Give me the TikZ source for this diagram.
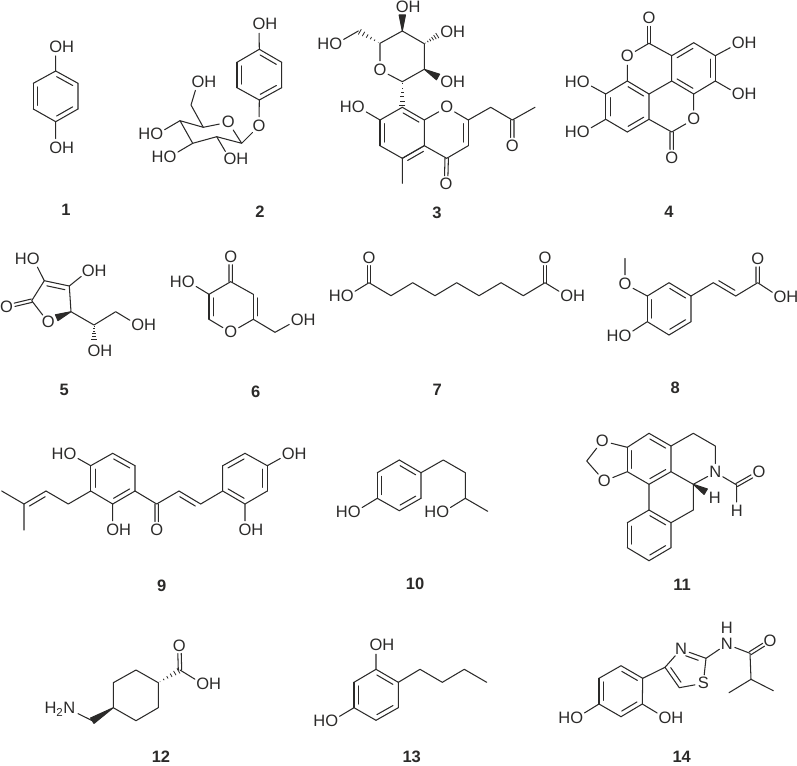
\documentclass[tikz,border=0pt]{standalone}
\usepackage{fontspec}
\setmainfont{Liberation Sans}
\usetikzlibrary{calc}
\definecolor{ink}{HTML}{2B2A29}
\newcommand{\OH}{O\rlap{H}}
\newcommand{\HO}{\llap{H}O}
\newcommand{\hashbond}[2]{%
  \foreach \t in {0.08,0.25,...,0.95}{%
    \pgfmathsetmacro{\w}{\t*3.2}
    \draw[line width=0.8pt,line cap=butt] ($(#1)!\t!(#2)!\w pt!90:(#2)$) -- ($(#1)!\t!(#2)!\w pt!-90:(#2)$);
  }}
\tikzset{
  atom/.style={circle, inner sep=0pt, font=\fontsize{16.5}{18}\selectfont},
  lab/.style={inner sep=0pt, font=\fontsize{16.5}{18}\selectfont\bfseries},
  dl/.style={to path={(\tikztostart) -- (\tikztotarget)
    ($(\tikztostart)!#1!(\tikztotarget)!4.5pt!90:(\tikztotarget)$) -- ($(\tikztotarget)!#1!(\tikztostart)!4.5pt!-90:(\tikztostart)$)}},
  dl/.default=.14,
  dr/.style={to path={(\tikztostart) -- (\tikztotarget)
    ($(\tikztostart)!#1!(\tikztotarget)!4.5pt!-90:(\tikztotarget)$) -- ($(\tikztotarget)!#1!(\tikztostart)!4.5pt!90:(\tikztostart)$)}},
  dr/.default=.14,
  dc/.style={to path={($(\tikztostart)!1.7pt!90:(\tikztotarget)$) -- ($(\tikztostart)!.68!(\tikztotarget)!1.7pt!90:(\tikztotarget)$)
    ($(\tikztostart)!1.7pt!-90:(\tikztotarget)$) -- ($(\tikztostart)!.68!(\tikztotarget)!1.7pt!-90:(\tikztotarget)$)}},
  wedge/.style={fill, to path={(\tikztostart) -- ($(\tikztotarget)!3.2pt!90:(\tikztostart)$) -- ($(\tikztotarget)!3.2pt!-90:(\tikztostart)$) -- cycle}},
}
\begin{document}
\begin{tikzpicture}[x=1pt, y=-1pt, color=ink, line width=1.05pt, line cap=round, line join=round]
\useasboundingbox (0,0) rectangle (797,765);
% 1
\coordinate (a1) at (55.7,71); \coordinate (a2) at (78,83.3); \coordinate (a3) at (78,109);
\coordinate (a4) at (55.7,121.7); \coordinate (a5) at (33.3,109); \coordinate (a6) at (33.3,83.3);
\node[atom] (a7) at (55.7,46.7) {\OH};
\node[atom] (a8) at (55.7,147.7) {\OH};
\draw (a1) edge[dr] (a2);
\draw (a3) edge[dr] (a4);
\draw (a5) edge[dr] (a6);
\draw (a2) -- (a3) (a4) -- (a5) (a6) -- (a1) -- (a7) (a4) -- (a8);
\node[lab] (l1) at (66,209.5) {1};
% 2
\coordinate (b1) at (259.3,49.3); \coordinate (b2) at (281.7,62.3); \coordinate (b3) at (281.7,87.7);
\coordinate (b4) at (259.3,100); \coordinate (b5) at (237,87.7); \coordinate (b6) at (237,62.3);
\node[atom] (b7) at (259,24) {\OH};
\node[atom] (b8) at (259,126) {O};
\node[atom] (b9) at (228.3,122.3) {O};
\coordinate (b10) at (241.7,143.3); \coordinate (b11) at (216.7,136.7); \coordinate (b12) at (192.7,143.3);
\coordinate (b13) at (180,120.7); \coordinate (b14) at (203.3,127.3); \coordinate (b15) at (191,105);
\node[atom] (b16) at (198,81.7) {\OH};
\node[atom] (b17) at (156.7,134.3) {\HO};
\node[atom] (b18) at (170,156.7) {\HO};
\node[atom] (b19) at (230,159.3) {\OH};
\draw (b1) edge[dr] (b2);
\draw (b3) edge[dr] (b4);
\draw (b5) edge[dr] (b6);
\draw (b2) -- (b3) (b4) -- (b5) (b6) -- (b1) -- (b7);
\draw (b4) -- (b8) -- (b10) -- (b9) -- (b14) -- (b13) -- (b12) -- (b11) -- (b10);
\draw (b14) -- (b15) -- (b16) (b13) -- (b17) (b12) -- (b18) (b11) -- (b19);
\node[lab] (l2) at (260,212) {2};
% 3
\coordinate (c1) at (402.3,31); \coordinate (c2) at (424.3,43.7); \coordinate (c3) at (424.3,69.3);
\coordinate (c4) at (402.3,81.7); \node[atom] (c5) at (380,70) {O}; \coordinate (c6) at (380,43.3);
\node[atom] (c7) at (402.3,6.5) {\OH}; \coordinate (c8) at (402.3,15);
\node[atom] (c9) at (446.7,31.7) {\OH}; \coordinate (c10) at (438.3,35);
\node[atom] (c11) at (446.7,82.3) {\OH}; \coordinate (c12) at (438,77);
\coordinate (c13) at (358.3,31); \node[atom] (c14) at (335.7,44) {\HO};
\coordinate (c15) at (402.3,107.3); \coordinate (c16) at (424.3,120); \node[atom] (c17) at (446.7,107.3) {O};
\coordinate (c18) at (468.3,120); \coordinate (c19) at (468.3,145.7); \coordinate (c20) at (446.7,158.3);
\coordinate (c21) at (424.3,145.7); \coordinate (c22) at (402.3,158.3); \coordinate (c23) at (380,145.7);
\coordinate (c24) at (380,120); \node[atom] (c25) at (446,184) {O}; \coordinate (c26) at (402.3,183.3);
\node[atom] (c27) at (358.3,107.3) {\HO}; \coordinate (c28) at (490.7,107.3); \coordinate (c29) at (512.3,120);
\node[atom] (c30) at (512.3,145.7) {O}; \coordinate (c31) at (535,107.3);
\draw (c20) edge[dc] (c25);
\draw (c29) edge[dc] (c30);
\draw (c15) edge[dr] (c16);
\draw (c18) edge[dr] (c19);
\draw (c22) edge[dr] (c21);
\draw (c23) edge[dr] (c24);
\draw (c1) edge[wedge] (c8);
\draw (c3) edge[wedge] (c12);
\hashbond{c2}{c10}
\hashbond{c6}{c13}
\hashbond{c4}{c15}
\draw (c6) -- (c1) -- (c2) -- (c3) -- (c4) -- (c5) -- (c6) (c13) -- (c14);
\draw (c16) -- (c17) -- (c18) (c19) -- (c20) -- (c21) -- (c16) (c21) -- (c22) -- (c23) (c24) -- (c15);
\draw (c22) -- (c26) (c24) -- (c27) (c18) -- (c28) -- (c29) -- (c31);
\node[lab] (l3) at (437,213) {3};
% 4
\node[atom] (d1) at (649,18.3) {O}; \coordinate (d2) at (649,43.3); \node[atom] (d3) at (627.3,56) {O};
\coordinate (d4) at (627.3,81); \coordinate (d5) at (649,94); \coordinate (d6) at (671.7,81);
\coordinate (d7) at (671.7,55.7); \coordinate (d8) at (693.7,42.7); \coordinate (d9) at (715.3,55.7);
\coordinate (d10) at (715.3,81); \coordinate (d11) at (693.7,94); \node[atom] (d12) at (693.7,119.3) {O};
\coordinate (d13) at (671.7,132); \node[atom] (d14) at (671.7,157.7) {O}; \coordinate (d15) at (649,119.3);
\coordinate (d16) at (627.3,132); \coordinate (d17) at (605.7,119.3); \coordinate (d18) at (605.7,94);
\node[atom] (d19) at (583.3,81.7) {\HO}; \node[atom] (d20) at (583.3,132.3) {\HO};
\node[atom] (d21) at (738.3,43.3) {\OH}; \node[atom] (d22) at (738.3,94.3) {\OH};
\draw (d2) edge[dc] (d1);
\draw (d13) edge[dc] (d14);
\draw (d4) edge[dr] (d5);
\draw (d15) edge[dr] (d16);
\draw (d17) edge[dr] (d18);
\draw (d6) edge[dl] (d11);
\draw (d10) edge[dl] (d9);
\draw (d8) edge[dl] (d7);
\draw (d2) -- (d3) -- (d4) -- (d18) (d5) -- (d15) -- (d13) -- (d12) -- (d11) -- (d10);
\draw (d16) -- (d17) (d5) -- (d6) -- (d7) -- (d2) (d8) -- (d9);
\draw (d18) -- (d19) (d17) -- (d20) (d9) -- (d21) (d10) -- (d22);
\node[lab] (l4) at (669,212) {4};
% 5
\node[atom] (e1) at (33.3,259) {\HO}; \node[atom] (e2) at (88.3,270.7) {\OH};
\coordinate (e3) at (44.3,280.7); \coordinate (e4) at (69.3,286); \coordinate (e5) at (71,311.7);
\node[atom] (e6) at (48.3,322.3) {O}; \coordinate (e7) at (31.7,300.7); \node[atom] (e8) at (6.5,306.7) {O};
\coordinate (e9) at (56.7,317.7); \coordinate (e10) at (94,325); \coordinate (e11) at (115.7,311.7);
\node[atom] (e12) at (137.7,325) {\OH}; \node[atom] (e13) at (94,350.7) {\OH}; \coordinate (e14) at (94,340);
\draw (e7) edge[dc] (e8);
\draw (e3) edge[dr] (e4);
\draw (e5) edge[wedge] (e9);
\hashbond{e10}{e14}
\draw (e1) -- (e3) -- (e7) -- (e6) (e4) -- (e2) (e4) -- (e5) -- (e10) -- (e11) -- (e12);
\node[lab] (l5) at (64.3,390) {5};
% 6
\node[atom] (f1) at (230.7,256.7) {O}; \coordinate (f2) at (230.7,281.7); \coordinate (f3) at (209,294.3);
\coordinate (f4) at (209,319.3); \node[atom] (f5) at (230.7,332.3) {O}; \coordinate (f6) at (253.3,319.3);
\coordinate (f7) at (253.3,294.3); \node[atom] (f8) at (188.3,281.7) {\HO}; \coordinate (f9) at (275,332.3);
\node[atom] (f10) at (297.3,320) {\OH};
\draw (f2) edge[dc] (f1);
\draw (f3) edge[dl] (f4);
\draw (f7) edge[dl] (f6);
\draw (f3) -- (f2) -- (f7) (f4) -- (f5) -- (f6) -- (f9) -- (f10) (f3) -- (f8);
\node[lab] (l6) at (255.7,391.7) {6};
% 7
\node[atom] (g1) at (347.3,296) {\HO}; \coordinate (g2) at (369,282.7); \node[atom] (g3) at (369,257.7) {O};
\coordinate (g4) at (391,295.7); \coordinate (g5) at (412.7,282.7); \coordinate (g6) at (435,295.7);
\coordinate (g7) at (456.7,282.7); \coordinate (g8) at (479,295.7); \coordinate (g9) at (501,282.7);
\coordinate (g10) at (523.3,295.7); \coordinate (g11) at (545,282.7); \node[atom] (g12) at (545,257.7) {O};
\node[atom] (g13) at (566.7,296) {\OH};
\draw (g2) edge[dc] (g3);
\draw (g11) edge[dc] (g12);
\draw (g1) -- (g2) -- (g4) -- (g5) -- (g6) -- (g7) -- (g8) -- (g9) -- (g10) -- (g11) -- (g13);
\node[lab] (l7) at (437.3,390) {7};
% 8
\node[atom] (h1) at (625,284) {O}; \coordinate (h2) at (625,258.3); \coordinate (h3) at (647.3,296);
\coordinate (h4) at (669,282.7); \coordinate (h5) at (691,296); \coordinate (h6) at (691,321.7);
\coordinate (h7) at (669,335); \coordinate (h8) at (647.3,321.7); \node[atom] (h9) at (625,336) {\HO};
\coordinate (h10) at (713.3,282.7); \coordinate (h11) at (735.7,296); \coordinate (h12) at (757.7,282.7);
\node[atom] (h13) at (757.7,259.3) {O}; \node[atom] (h14) at (780,297.3) {\OH};
\draw (h12) edge[dc] (h13);
\draw (h3) edge[dl] (h8);
\draw (h4) edge[dr] (h5);
\draw (h6) edge[dr] (h7);
\draw (h10) edge[dl] (h11);
\draw (h2) -- (h1) -- (h3) -- (h4) (h5) -- (h6) (h7) -- (h8) -- (h9);
\draw (h5) -- (h10) (h11) -- (h12) -- (h14);
\node[lab] (l8) at (675.3,388) {8};
% 9
\coordinate (i1) at (1.7,491); \coordinate (i2) at (24,504); \coordinate (i3) at (24,530);
\coordinate (i4) at (46,491); \coordinate (i5) at (68.3,504); \coordinate (i6) at (90.7,491);
\coordinate (i7) at (90.7,465.7); \coordinate (i8) at (112.7,453.3); \coordinate (i9) at (135,465.7);
\coordinate (i10) at (135,491); \coordinate (i11) at (112.7,504); \node[atom] (i12) at (70,454) {\HO};
\node[atom] (i13) at (112.7,530) {\OH}; \coordinate (i14) at (156.7,504); \node[atom] (i15) at (156.7,530) {O};
\coordinate (i16) at (179,491); \coordinate (i17) at (200.7,504); \coordinate (i18) at (222.7,491);
\coordinate (i19) at (222.7,465.7); \coordinate (i20) at (245,453.3); \coordinate (i21) at (267.3,465.7);
\coordinate (i22) at (267.3,491); \coordinate (i23) at (245,504); \node[atom] (i24) at (288.3,454) {\OH};
\node[atom] (i25) at (245,530) {\OH};
\draw (i14) edge[dc] (i15);
\draw (i2) edge[dr] (i4);
\draw (i6) edge[dr] (i7);
\draw (i8) edge[dr] (i9);
\draw (i10) edge[dr] (i11);
\draw (i16) edge[dr] (i17);
\draw (i19) edge[dr] (i20);
\draw (i21) edge[dr] (i22);
\draw (i23) edge[dr] (i18);
\draw (i1) -- (i2) -- (i3) (i4) -- (i5) -- (i6) (i7) -- (i8) (i9) -- (i10) (i11) -- (i6);
\draw (i7) -- (i12) (i11) -- (i13) (i10) -- (i14) -- (i16) (i17) -- (i18) -- (i19);
\draw (i20) -- (i21) (i22) -- (i23) (i21) -- (i24) (i23) -- (i25);
\node[lab] (l9) at (161.7,586) {9};
% 10
\coordinate (j1) at (399.3,460); \coordinate (j2) at (421,472.7); \coordinate (j3) at (421,498.3);
\coordinate (j4) at (399.3,510.7); \coordinate (j5) at (377.3,498.3); \coordinate (j6) at (377.3,472.7);
\node[atom] (j7) at (354.3,512.3) {\HO}; \coordinate (j8) at (443.3,460); \coordinate (j9) at (465.3,472.7);
\coordinate (j10) at (465.3,498.3); \coordinate (j11) at (487.7,511.3); \node[atom] (j12) at (442.7,512.3) {\HO};
\draw (j1) edge[dr] (j2);
\draw (j3) edge[dr] (j4);
\draw (j5) edge[dr] (j6);
\draw (j2) -- (j3) (j4) -- (j5) (j6) -- (j1) (j5) -- (j7);
\draw (j2) -- (j8) -- (j9) -- (j10) -- (j11) (j10) -- (j12);
\node[lab] (l10) at (415,584) {10};
% 11
\node[atom] (k1) at (602.3,441) {O}; \node[atom] (k2) at (604.3,481) {O}; \coordinate (k3) at (586.7,461);
\coordinate (k4) at (627.3,447.3); \coordinate (k5) at (627.3,471.7); \coordinate (k6) at (649,433.3);
\coordinate (k7) at (671,446); \coordinate (k8) at (671,471.7); \coordinate (k9) at (649,484.3);
\coordinate (k10) at (693.3,433.3); \coordinate (k11) at (715.3,446); \node[atom] (k12) at (715.3,472.3) {N};
\coordinate (k13) at (693.3,484.3); \node[atom] (k14) at (714.7,498.3) {H}; \coordinate (k15) at (705.7,491.7);
\coordinate (k16) at (693.3,510); \coordinate (k17) at (671,522.7); \coordinate (k18) at (671,547.7);
\coordinate (k19) at (649,560.7); \coordinate (k20) at (627.3,547.7); \coordinate (k21) at (627.3,522.7);
\coordinate (k22) at (649,510); \coordinate (k23) at (736.7,485); \node[atom] (k24) at (759,472.3) {O};
\node[atom] (k25) at (736.7,510.7) {H};
\draw (k23) edge[dc] (k24);
\draw (k5) edge[dr] (k4);
\draw (k6) edge[dr] (k7);
\draw (k8) edge[dr] (k9);
\draw (k22) edge[dr] (k17);
\draw (k18) edge[dr] (k19);
\draw (k20) edge[dr] (k21);
\draw (k13) edge[wedge] (k15);
\draw (k3) -- (k1) -- (k4) -- (k6) (k3) -- (k2) -- (k5) -- (k9) -- (k22) -- (k21);
\draw (k7) -- (k8) -- (k13) -- (k12) -- (k11) -- (k10) -- (k7) (k13) -- (k16) -- (k17) -- (k18);
\draw (k19) -- (k20) (k12) -- (k23) -- (k25);
\node[lab] (l11) at (682,584.5) {11};
% 12
\coordinate (m1) at (136,670); \coordinate (m2) at (158.3,682.7); \coordinate (m3) at (158.3,707.7);
\coordinate (m4) at (136,720.7); \coordinate (m5) at (113.3,707.7); \coordinate (m6) at (113.3,682.7);
\coordinate (m7) at (180,670); \node[atom] (m8) at (179.3,645.7) {O}; \node[atom] (m9) at (202.7,684) {\OH};
\coordinate (m10) at (92.3,720.7); \node[atom] (m11) at (69.3,709.3) {\llap{H\textsubscript{2}}N};
\draw (m7) edge[dc] (m8);
\draw (m5) edge[wedge] (m10);
\hashbond{m2}{m7}
\draw (m1) -- (m2) -- (m3) -- (m4) -- (m5) -- (m6) -- (m1) (m7) -- (m9) (m10) -- (m11);
\node[lab] (l12) at (161,757) {12};
% 13
\node[atom] (n1) at (376,645) {\OH}; \coordinate (n2) at (376,669.3); \coordinate (n3) at (398.3,682.3);
\coordinate (n4) at (398.3,707.7); \coordinate (n5) at (376,720.3); \coordinate (n6) at (354,707.7);
\coordinate (n7) at (354,682.3); \node[atom] (n8) at (331.7,721) {\HO}; \coordinate (n9) at (420,669.3);
\coordinate (n10) at (442.3,682.3); \coordinate (n11) at (464.3,669.3); \coordinate (n12) at (486.7,682.3);
\draw (n2) edge[dr] (n3);
\draw (n4) edge[dr] (n5);
\draw (n6) edge[dr] (n7);
\draw (n1) -- (n2) -- (n7) (n3) -- (n4) (n5) -- (n6) -- (n8);
\draw (n3) -- (n9) -- (n10) -- (n11) -- (n12);
\node[lab] (l13) at (411.7,757) {13};
% 14
\coordinate (o1) at (621,665.7); \coordinate (o2) at (642.7,678.3); \coordinate (o3) at (642.3,704);
\coordinate (o4) at (621,716.7); \coordinate (o5) at (599,704); \coordinate (o6) at (599,678.3);
\node[atom] (o7) at (576.7,717.7) {\HO}; \node[atom] (o8) at (665,717.7) {\OH};
\coordinate (o9) at (665,667.3); \node[atom] (o10) at (681,649.3) {N}; \coordinate (o11) at (706,658.3);
\node[atom] (o12) at (703.3,683.3) {S}; \coordinate (o13) at (679.3,687.7); \node[atom] (o14) at (726.7,644.3) {N};
\node[atom] (o15) at (726.7,628.3) {H}; \coordinate (o16) at (750,653.3); \node[atom] (o17) at (770,640.7) {O};
\coordinate (o18) at (751,679.3); \coordinate (o19) at (729,692.7); \coordinate (o20) at (773.3,690.7);
\draw (o16) edge[dc] (o17);
\draw (o1) edge[dr] (o2);
\draw (o3) edge[dr] (o4);
\draw (o5) edge[dr] (o6);
\draw (o10) edge[dr=.25] (o11);
\draw (o9) edge[dl] (o13);
\draw (o2) -- (o3) (o4) -- (o5) (o6) -- (o1) (o5) -- (o7) (o3) -- (o8) (o2) -- (o9);
\draw (o9) -- (o10) (o11) -- (o12) -- (o13) (o11) -- (o14) -- (o16) -- (o18) -- (o19) (o18) -- (o20);
\node[lab] (l14) at (681.7,757) {14};
\end{tikzpicture}
\end{document}
